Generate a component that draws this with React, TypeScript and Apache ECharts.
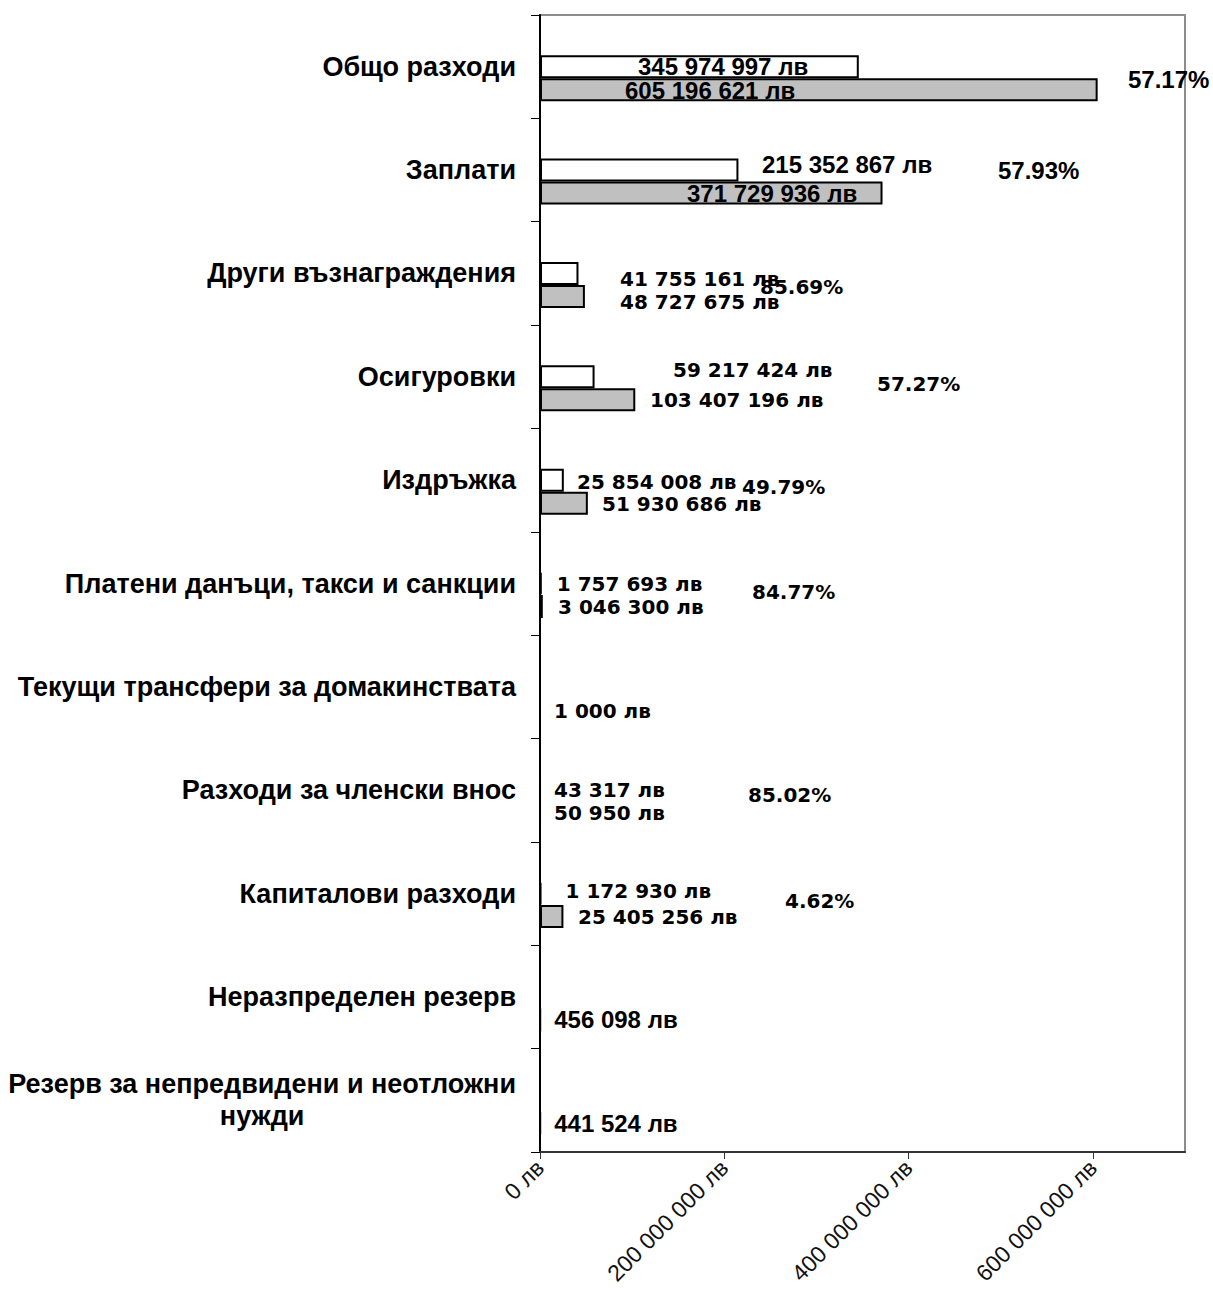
import React, { useEffect, useRef } from "react";
import * as echarts from "echarts";

const categories = [
  "Общо разходи",
  "Заплати",
  "Други възнаграждения",
  "Осигуровки",
  "Издръжка",
  "Платени данъци, такси и санкции",
  "Текущи трансфери за домакинствата",
  "Разходи за членски внос",
  "Капиталови разходи",
  "Неразпределен резерв",
  "Резерв за непредвидени и неотложни нужди",
];

// executed (white bars)
const executed = [345974997, 215352867, 41755161, 59217424, 25854008, 1757693, 0, 43317, 1172930, 0, 0];
// plan (gray bars)
const plan = [605196621, 371729936, 48727675, 103407196, 51930686, 3046300, 1000, 50950, 25405256, 456098, 441524];
// execution percentage labels
const percents = ["57.17%", "57.93%", "85.69%", "57.27%", "49.79%", "84.77%", "", "85.02%", "4.62%", "", ""];

const xTicks = [0, 200000000, 400000000, 600000000];

// label placement (styling, px offsets from bar's left edge / centre)
const execLabelOffset = [[98, 0], [222, -6], [80, 6], [133, -7], [37, 2], [17, 0], [0, 0], [15, 0], [26, -3], [0, 0], [0, 0]];
const planLabelOffset = [[85, 1], [147, 0], [80, 6], [110, 0], [62, 1], [18, 0], [15, 1], [15, 0], [38, 0], [15, 0], [15, 0]];
const pctLabelOffset = [[588, 36], [458, 23], [220, 37], [337, 30], [202, 30], [212, 31], [0, 0], [208, 28], [245, 30], [0, 0], [0, 0]];
const narrowExec = [true, true, false, false, false, false, false, false, false, false, false];
const narrowPlan = [true, true, false, false, false, false, false, false, false, true, true];
const narrowPct = [true, true, false, false, false, false, false, false, false, false, false];

const fmtLv = (v: number) =>
  String(v).replace(/\B(?=(\d{3})+(?!\d))/g, " ") + " лв";

const NARROW = { fontFamily: "Liberation Sans, Arial, sans-serif", fontSize: 24 };
const WIDE = { fontFamily: "DejaVu Sans, sans-serif", fontSize: 20 };

export default function App() {
  const ref = useRef<HTMLDivElement>(null);
  useEffect(() => {
    if (!ref.current) return;
    const chart = echarts.init(ref.current, null, { renderer: "svg" });

    const pctData = categories.map((_, i) => ({
      value: 0,
      label: {
        offset: pctLabelOffset[i],
        ...(narrowPct[i] ? NARROW : { ...WIDE, fontSize: 20 }),
      },
    }));
    const execData = executed.map((v, i) => ({
      value: v,
      label: { offset: execLabelOffset[i], ...(narrowExec[i] ? NARROW : WIDE) },
    }));
    const planData = plan.map((v, i) => ({
      value: v,
      label: { offset: planLabelOffset[i], ...(narrowPlan[i] ? NARROW : WIDE) },
    }));

    const baseLabel = {
      show: true,
      position: "insideLeft",
      distance: 0,
      color: "#000",
      fontWeight: "bold",
    };

    chart.setOption({
      animation: false,
      backgroundColor: "#fff",
      grid: {
        left: 540,
        right: 28,
        top: 15,
        bottom: 141,
        show: true,
        borderColor: "#8c8c8c",
        borderWidth: 2,
        containLabel: false,
      },
      xAxis: {
        type: "value",
        min: 0,
        max: 700000000,
        interval: 200000000,
        splitLine: { show: false },
        axisLine: { show: true, lineStyle: { color: "#333", width: 2 } },
        axisTick: { show: true, length: 7, lineStyle: { color: "#333", width: 1 }, customValues: xTicks },
        axisLabel: {
          rotate: 45,
          margin: 12,
          color: "#111",
          fontSize: 23,
          fontFamily: "Liberation Sans, Arial, sans-serif",
          customValues: xTicks,
          formatter: (v: number) => fmtLv(v),
        },
      },
      yAxis: {
        type: "category",
        inverse: true,
        data: categories,
        axisLine: { show: true, lineStyle: { color: "#000", width: 2 } },
        axisTick: { show: true, length: 9, inside: false, lineStyle: { color: "#000", width: 1 } },
        axisLabel: {
          margin: 24,
          color: "#000",
          fontSize: 27,
          fontWeight: "bold",
          fontFamily: "Liberation Sans, Arial, sans-serif",
          formatter: (v: string) =>
            v === "Резерв за непредвидени и неотложни нужди"
              ? "{c|Резерв за непредвидени и неотложни}\n{c|нужди}"
              : v,
          rich: {
            c: {
              align: "center",
              fontSize: 27,
              fontWeight: "bold",
              color: "#000",
              lineHeight: 32,
              fontFamily: "Liberation Sans, Arial, sans-serif",
            },
          },
        },
      },
      series: [
        {
          name: "pct",
          type: "bar",
          barWidth: 23,
          barGap: "0%",
          data: pctData,
          itemStyle: { color: "transparent", borderWidth: 0 },
          label: { ...baseLabel, formatter: (p: any) => percents[p.dataIndex] },
          silent: true,
        },
        {
          name: "Изпълнение",
          type: "bar",
          barWidth: 23,
          barGap: "0%",
          data: execData,
          itemStyle: { color: "#ffffff", borderColor: "#000", borderWidth: 2 },
          label: {
            ...baseLabel,
            formatter: (p: any) => (p.value ? fmtLv(p.value) : ""),
          },
        },
        {
          name: "План",
          type: "bar",
          barWidth: 23,
          barGap: "0%",
          data: planData,
          itemStyle: { color: "#c0c0c0", borderColor: "#000", borderWidth: 2 },
          label: {
            ...baseLabel,
            formatter: (p: any) => (p.value ? fmtLv(p.value) : ""),
          },
        },
      ],
    });
    return () => chart.dispose();
  }, []);
  return (
    <div
      ref={ref}
      style={{ position: "absolute", left: 0, top: 0, width: 1213, height: 1293 }}
    />
  );
}
